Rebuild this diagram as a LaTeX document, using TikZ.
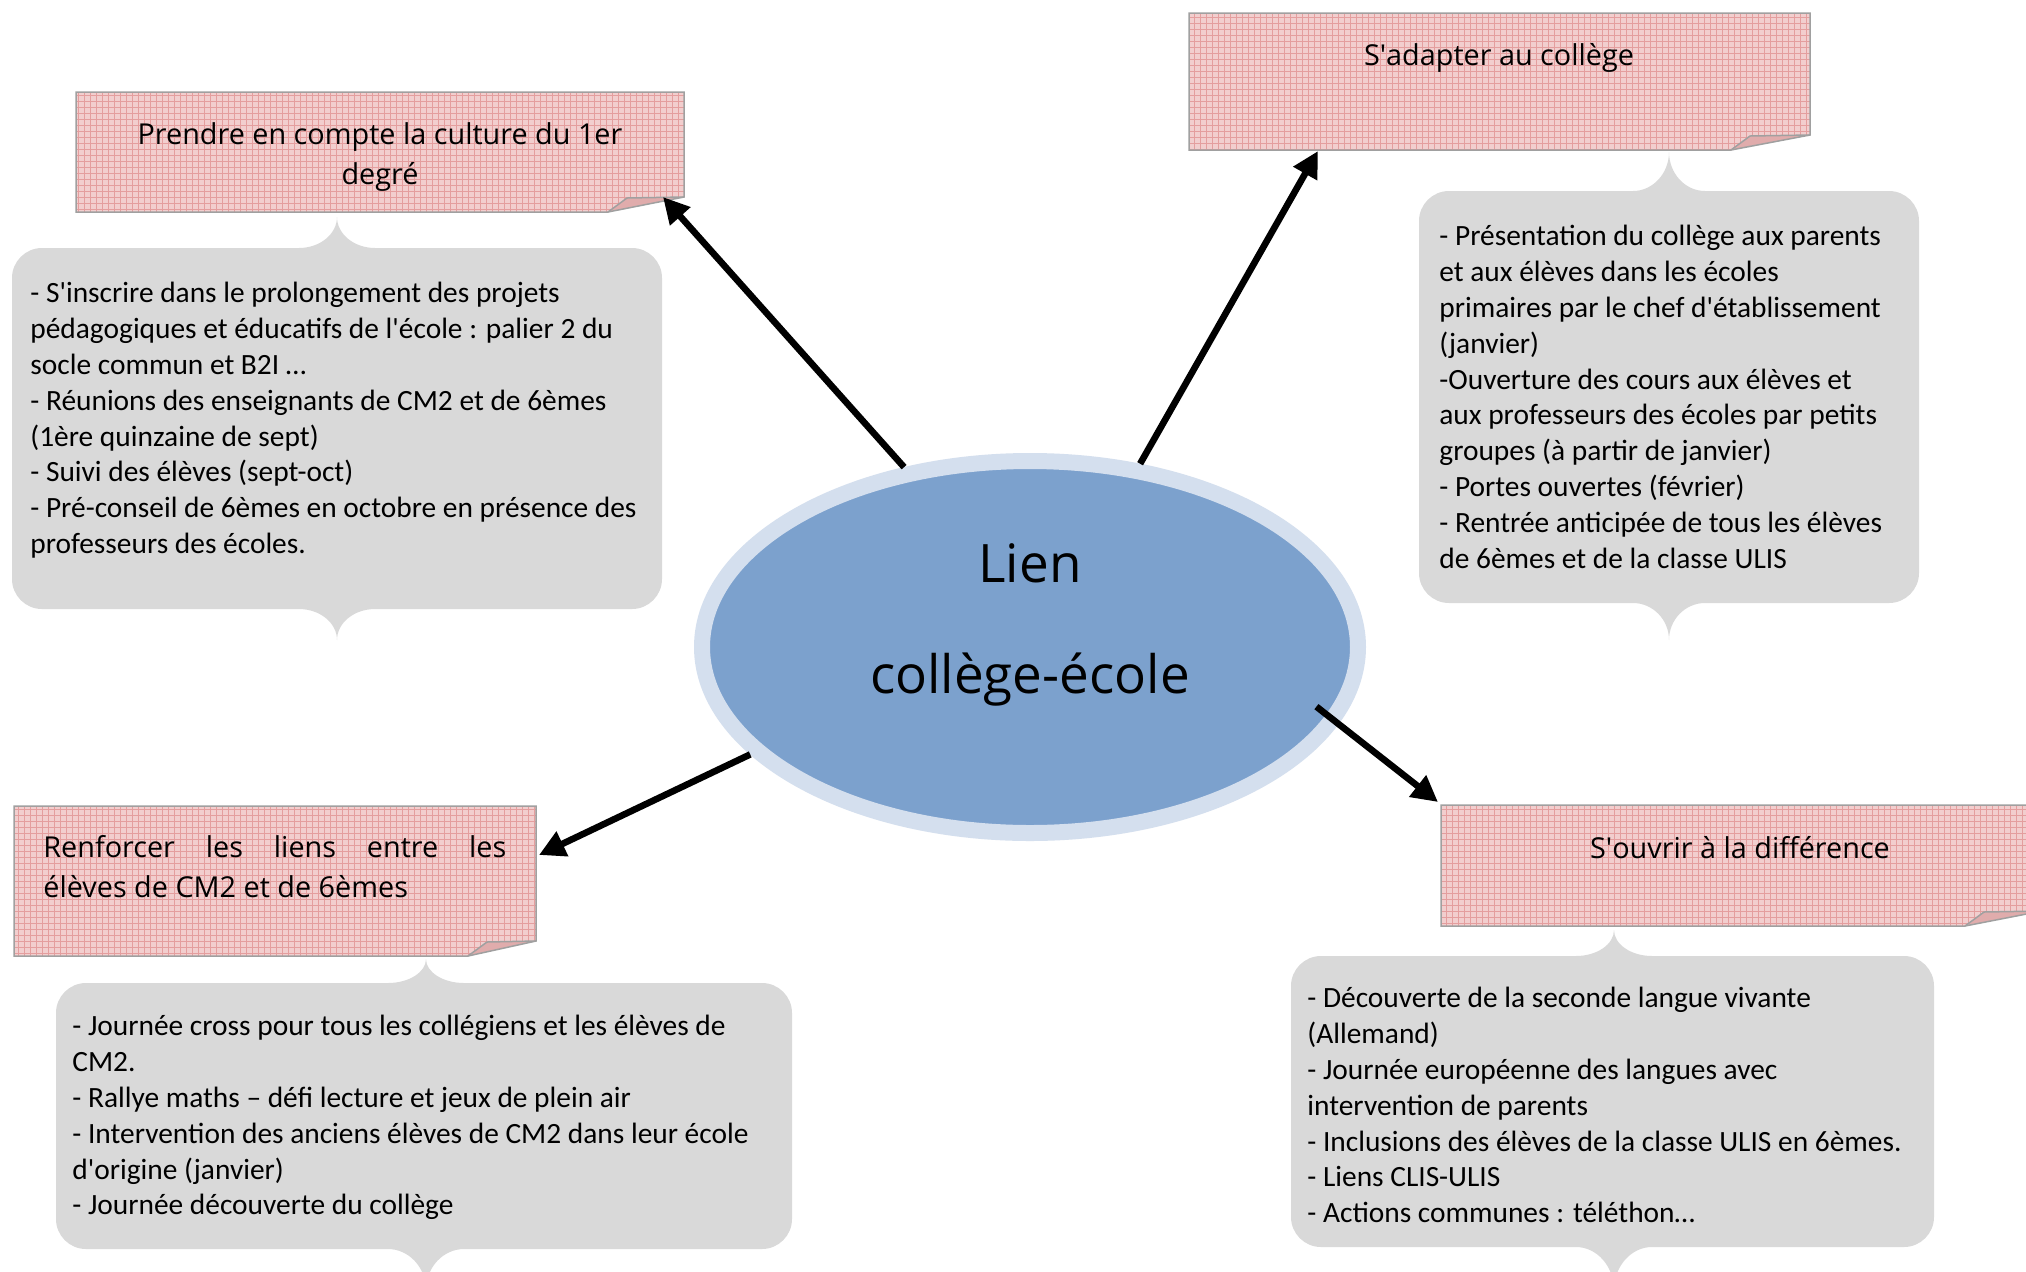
\documentclass[tikz,border=0pt]{standalone}
\usepackage{fontspec}
\setmainfont{Carlito}
\newfontfamily\headfont{Open Sans}
\usetikzlibrary{arrows.meta,patterns,shapes.geometric}
\definecolor{pinkfill}{RGB}{242,206,206}
\definecolor{pinkgrid}{RGB}{228,158,158}
\definecolor{foldfill}{RGB}{224,172,172}
\definecolor{boxline}{RGB}{160,160,160}
\definecolor{bubblegray}{RGB}{217,217,217}
\definecolor{ellin}{RGB}{124,161,205}
\definecolor{ellring}{RGB}{212,223,238}
\newcommand\myap{\textquotesingle}
\tikzset{
  notefill/.style={fill=pinkfill},
  notegrid/.style={pattern=grid, pattern color=pinkgrid},
  noteline/.style={draw=boxline, line width=0.75pt},
  bubblefill/.style={fill=bubblegray},
  bodytext/.style={inner sep=0pt, anchor=north west, align=left, font=\fontsize{14.7}{17.9}\selectfont},
  headtext/.style={inner sep=0pt, align=center, font=\headfont\fontsize{14.4}{20}\selectfont},
  centertext/.style={inner sep=0pt, font=\headfont\fontsize{26.5}{30}\selectfont},
  link/.style={line width=3.3pt, -{Triangle[length=13pt,width=13pt]}},
}
% x1 y1 x2 y2 foldwidth
\newcommand\notebox[5]{%
  \fill[notefill] (#1,#2) -- (#3,#2) -- (#3,#4-15) -- (#3-#5,#4) -- (#1,#4) -- cycle;
  \fill[notegrid] (#1,#2) -- (#3,#2) -- (#3,#4-15) -- (#3-#5,#4) -- (#1,#4) -- cycle;
  \fill[foldfill] (#3-#5,#4) -- (#3-#5+19,#4-14) -- (#3,#4-15) -- cycle;
  \draw[noteline] (#1,#2) -- (#3,#2) -- (#3,#4-15) -- (#3-#5,#4) -- (#1,#4) -- cycle;
  \draw[noteline] (#3-#5,#4) -- (#3-#5+19,#4-14) -- (#3,#4-15);
}
% x1 y1 x2 y2 px toptip bottomtip halfwidth
\newcommand\callout[8]{%
  \fill[bubblefill] (#1+30,#2) -- (#5-#8,#2)
    .. controls (#5-0.45*#8,#2) and (#5,{#2-0.45*(#2-#6)}) .. (#5,#6)
    .. controls (#5,{#2-0.45*(#2-#6)}) and (#5+0.45*#8,#2) .. (#5+#8,#2)
    -- (#3-30,#2) .. controls (#3-13.5,#2) and (#3,#2+13.5) .. (#3,#2+30)
    -- (#3,#4-30) .. controls (#3,#4-13.5) and (#3-13.5,#4) .. (#3-30,#4)
    -- (#5+#8,#4)
    .. controls (#5+0.45*#8,#4) and (#5,{#4+0.45*(#7-#4)}) .. (#5,#7)
    .. controls (#5,{#4+0.45*(#7-#4)}) and (#5-0.45*#8,#4) .. (#5-#8,#4)
    -- (#1+30,#4) .. controls (#1+13.5,#4) and (#1,#4-13.5) .. (#1,#4-30)
    -- (#1,#2+30) .. controls (#1,#2+13.5) and (#1+13.5,#2) .. (#1+30,#2) -- cycle;
}
\begin{document}
\begin{tikzpicture}[x=0.5pt,y=-0.5pt]
\useasboundingbox (0,0) rectangle (2026,1271);
\fill[white] (0,0) rectangle (2026,1271);
\clip (0,0) rectangle (2026,1271);

% pink title boxes
\notebox{76}{92}{684}{212}{76}
\notebox{1189}{13}{1810}{150}{79}
\notebox{14}{806}{536}{956}{68}
\notebox{1441}{805}{2042}{926}{77}

% grey callouts
\callout{12}{248}{662}{609}{337}{217}{640}{38}
\callout{1419}{191}{1919}{603}{1669}{152}{640}{36}
\callout{56}{983}{792}{1249}{426}{959}{1290}{38}
\callout{1291}{956}{1934}{1247}{1614}{930}{1290}{38}

% headings
\node[headtext] (h1) at (380,157) {Prendre en compte la culture du 1er\\degré};
\node[headtext] (h2) at (1499,58) {S\myap adapter au collège};
\node[headtext, anchor=west, align=left] (h3) at (43,867) {\makebox[231.5pt][s]{Renforcer les liens entre les}\\élèves de CM2 et de 6èmes};
\node[headtext] (h4) at (1740,848) {S\myap ouvrir à la différence};

% body texts
\node[bodytext] (t1) at (30,282) {- S\myap inscrire dans le prolongement des projets\\
pédagogiques et éducatifs de l\myap école : palier 2 du\\
socle commun et B2I …\\
- Réunions des enseignants de CM2 et de 6èmes\\
(1ère quinzaine de sept)\\
- Suivi des élèves (sept-oct)\\
- Pré-conseil de 6èmes en octobre en présence des\\
professeurs des écoles.};

\node[bodytext] (t2) at (1439,225) {- Présentation du collège aux parents\\
et aux élèves dans les écoles\\
primaires par le chef d\myap établissement\\
(janvier)\\
-Ouverture des cours aux élèves et\\
aux professeurs des écoles par petits\\
groupes (à partir de janvier)\\
- Portes ouvertes (février)\\
- Rentrée anticipée de tous les élèves\\
de 6èmes et de la classe ULIS};

\node[bodytext] (t3) at (72,1015) {- Journée cross pour tous les collégiens et les élèves de\\
CM2.\\
- Rallye maths – défi lecture et jeux de plein air\\
- Intervention des anciens élèves de CM2 dans leur école\\
d\myap origine (janvier)\\
- Journée découverte du collège};

\node[bodytext] (t4) at (1307,987) {- Découverte de la seconde langue vivante\\
(Allemand)\\
- Journée européenne des langues avec\\
intervention de parents\\
- Inclusions des élèves de la classe ULIS en 6èmes.\\
- Liens CLIS-ULIS\\
- Actions communes : téléthon…};

% central ellipse
\node[ellipse, fill=ellin, draw=ellring, line width=8pt, inner sep=0pt,
      minimum width=328pt, minimum height=186pt] (c) at (1030,647) {};
\node[centertext] (lien1) at (1030,563) {Lien};
\node[centertext] (lien2) at (1030,680) {collège-école};

% arrow ends
\coordinate (e1) at (663,197);
\coordinate (e2) at (1318,151);
\coordinate (e3) at (539,855);
\coordinate (e4) at (1438,802);

\draw[link] (c.125) -- (e1);
\draw[link] (c.59) -- (e2);
\draw[link] (c.201) -- (e3);
\draw[link, shorten <=-14pt] (c.346) -- (e4);
\end{tikzpicture}
\end{document}
